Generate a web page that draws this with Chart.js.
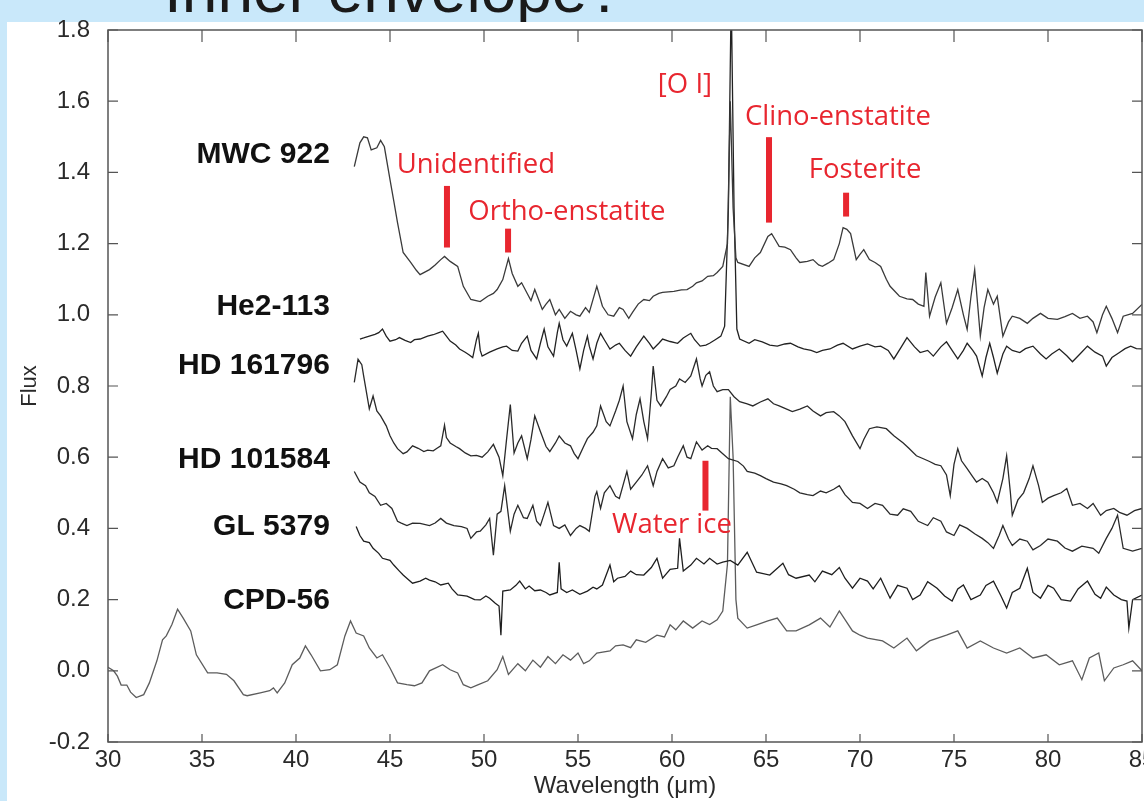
<!DOCTYPE html>
<html><head><meta charset="utf-8">
<script src="https://cdn.jsdelivr.net/npm/chart.js@4/dist/chart.umd.min.js"></script>
<style>
html,body{margin:0;padding:0;width:1144px;height:801px;overflow:hidden;background:#c9e8fa;}
#title{position:absolute;left:164px;top:-42px;font:64px/64px "Liberation Sans",Arial,sans-serif;color:#1a1a1a;white-space:nowrap;}
#panel{position:absolute;left:7px;top:22px;width:1137px;height:779px;background:#fff;}
#c{position:absolute;left:0;top:0;}
</style></head><body>
<div id="title">Inner envelope?</div>
<div id="panel"></div>
<canvas id="c" width="1144" height="801"></canvas>
<script>
// ---------- tick labels ----------
const xTickValues = [30,35,40,45,50,55,60,65,70,75,80,85];
const yTickValues = [-0.2,0,0.2,0.4,0.6,0.8,1.0,1.2,1.4,1.6,1.8];

// ---------- series names ----------
const seriesNames = ['MWC 922','He2-113','HD 161796','HD 101584','GL 5379','CPD-56'];

// ---------- MWC 922 ----------
const mwcWave = [43.1,43.4,43.6,43.8,44.0,44.3,44.5,44.7,45.0,45.2,45.4,45.7,46.1,46.4,46.6,47.1,47.4,47.7,47.9,48.2,48.6,48.9,49.3,49.8,50.2,50.5,50.7,51.0,51.3,51.5,51.8,52.0,52.3,52.5,52.7,53.1,53.3,53.5,53.8,54.0,54.3,54.6,54.9,55.1,55.4,55.6,56.0,56.3,56.6,56.9,57.2,57.4,57.7,57.9,58.2,58.5,58.8,59.0,59.3,59.5,60.1,60.5,60.8,61.1,61.3,61.6,61.9,62.2,62.4,62.7,62.95,63.1,63.25,63.4,63.5,64.1,64.4,64.7,65.1,65.3,65.5,65.7,66.0,66.3,66.6,66.8,67.2,67.5,67.8,68.0,68.3,68.6,68.9,69.1,69.3,69.5,69.8,70.0,70.2,70.5,70.8,71.1,71.4,71.6,72.1,72.5,72.8,73.1,73.4,73.5,73.7,74.0,74.3,74.6,74.9,75.2,75.5,75.7,75.9,76.1,76.4,76.6,76.8,77.1,77.3,77.6,77.9,78.1,78.5,78.9,79.2,79.6,80.0,80.5,80.9,81.3,81.7,82.1,82.4,82.6,82.9,83.1,83.4,83.7,84.0,84.5,85.0];
const mwcFlux = [1.416,1.483,1.5,1.497,1.463,1.469,1.49,1.472,1.38,1.32,1.259,1.175,1.147,1.125,1.113,1.127,1.14,1.155,1.164,1.15,1.136,1.08,1.043,1.037,1.052,1.06,1.071,1.099,1.158,1.116,1.08,1.09,1.06,1.04,1.071,1.015,1.03,1.043,1.0,1.015,0.99,1.01,1.0,0.996,1.02,1.007,1.08,1.024,1.0,0.996,1.02,1.015,0.99,1.007,1.03,1.043,1.04,1.052,1.06,1.063,1.066,1.07,1.071,1.08,1.09,1.095,1.108,1.11,1.119,1.136,1.2,1.6,1.3,1.16,1.147,1.136,1.16,1.175,1.22,1.228,1.21,1.192,1.19,1.183,1.16,1.147,1.15,1.155,1.14,1.136,1.145,1.155,1.2,1.245,1.24,1.228,1.155,1.17,1.183,1.155,1.147,1.136,1.1,1.08,1.052,1.045,1.043,1.03,1.024,1.119,0.996,1.05,1.09,0.976,1.02,1.071,1.0,0.959,1.05,1.127,0.94,1.02,1.071,1.03,1.052,0.94,0.98,0.996,0.99,0.976,0.99,1.004,0.99,0.987,0.995,1.004,0.99,0.996,0.98,0.95,1.0,1.024,0.99,0.95,0.996,1.004,1.029];

// ---------- He2-113 ----------
const heWave = [43.4,43.6,43.9,44.2,44.4,44.6,44.8,45.0,45.3,45.5,45.8,46.1,46.3,46.6,47.0,47.3,47.6,47.8,48.0,48.2,48.5,48.7,49.0,49.2,49.4,49.6,49.7,49.8,49.9,50.3,50.7,51.0,51.2,51.5,51.8,52.0,52.3,52.5,52.8,53.0,53.2,53.4,53.7,53.9,54.0,54.2,54.4,54.7,54.9,55.1,55.3,55.5,55.6,55.8,56.0,56.2,56.4,56.7,57.0,57.2,57.5,57.8,58.1,58.5,58.8,59.0,59.3,59.5,59.9,60.3,60.6,61.0,61.2,61.5,61.8,62.0,62.3,62.6,62.8,63.0,63.15,63.3,63.45,63.6,64.1,64.4,64.8,65.2,65.6,66.0,66.3,66.7,67.0,67.4,67.7,68.0,68.4,68.8,69.1,69.6,70.0,70.4,70.8,71.1,71.5,71.8,72.2,72.5,72.9,73.2,73.6,73.9,74.3,74.6,74.9,75.2,75.5,75.7,76.0,76.2,76.5,76.7,76.9,77.1,77.3,77.6,77.8,78.1,78.5,78.8,79.2,79.6,79.9,80.2,80.6,81.0,81.3,81.7,82.1,82.5,82.9,83.1,83.4,83.8,84.1,84.4,84.7,85.0];
const heFlux = [0.932,0.935,0.94,0.945,0.95,0.96,0.94,0.926,0.93,0.936,0.928,0.922,0.93,0.932,0.94,0.944,0.95,0.954,0.94,0.926,0.915,0.904,0.895,0.888,0.88,0.93,0.948,0.9,0.884,0.895,0.904,0.91,0.912,0.9,0.898,0.92,0.94,0.9,0.876,0.92,0.96,0.91,0.884,0.95,0.976,0.93,0.912,0.948,0.9,0.848,0.9,0.94,0.912,0.876,0.92,0.948,0.93,0.904,0.915,0.92,0.9,0.884,0.91,0.94,0.92,0.904,0.92,0.932,0.925,0.92,0.935,0.948,0.93,0.912,0.915,0.92,0.93,0.94,0.968,1.3,1.9,1.3,0.96,0.932,0.92,0.93,0.924,0.915,0.912,0.918,0.92,0.91,0.904,0.9,0.894,0.9,0.904,0.915,0.92,0.904,0.912,0.918,0.91,0.912,0.9,0.876,0.91,0.936,0.91,0.894,0.9,0.884,0.91,0.924,0.9,0.876,0.9,0.92,0.9,0.884,0.828,0.88,0.92,0.88,0.836,0.89,0.912,0.9,0.894,0.905,0.912,0.89,0.876,0.89,0.904,0.885,0.868,0.89,0.912,0.895,0.884,0.856,0.88,0.894,0.905,0.912,0.905,0.904];

// ---------- HD 161796 ----------
const hd161Wave = [43.1,43.3,43.5,43.6,43.9,44.1,44.3,44.5,44.8,45.0,45.2,45.4,45.7,45.9,46.2,46.5,46.8,47.0,47.3,47.5,47.7,47.9,48.0,48.2,48.5,48.7,49.0,49.3,49.6,49.9,50.2,50.5,50.8,51.0,51.2,51.4,51.6,51.8,52.0,52.3,52.5,52.7,53.0,53.3,53.5,53.8,54.0,54.3,54.6,54.8,55.0,55.3,55.5,55.8,56.0,56.2,56.5,56.7,57.0,57.2,57.4,57.6,57.9,58.1,58.3,58.5,58.7,58.9,59.0,59.2,59.4,59.7,59.9,60.2,60.4,60.7,61.0,61.3,61.5,61.6,61.8,62.0,62.2,62.4,62.7,63.0,63.3,63.6,64.0,64.3,64.7,65.1,65.4,65.7,66.1,66.4,66.8,67.2,67.5,67.9,68.2,68.6,68.9,69.2,69.6,70.0,70.2,70.5,70.9,71.4,71.8,72.3,72.6,73.0,73.4,73.7,74.0,74.3,74.6,74.8,75.0,75.2,75.4,75.7,76.0,76.2,76.5,76.8,77.1,77.3,77.6,77.8,78.0,78.1,78.4,78.7,79.0,79.2,79.5,79.7,80.0,80.3,80.7,81.0,81.3,81.7,82.1,82.4,82.8,83.1,83.5,83.8,84.2,84.6,85.0];
const hd161Flux = [0.81,0.875,0.86,0.828,0.736,0.772,0.73,0.716,0.688,0.66,0.64,0.624,0.61,0.615,0.632,0.625,0.616,0.62,0.618,0.625,0.632,0.69,0.655,0.64,0.63,0.624,0.612,0.604,0.605,0.6,0.615,0.636,0.6,0.548,0.65,0.748,0.612,0.64,0.66,0.596,0.65,0.716,0.672,0.63,0.616,0.64,0.66,0.64,0.632,0.61,0.596,0.63,0.652,0.67,0.688,0.744,0.7,0.688,0.73,0.76,0.8,0.7,0.652,0.72,0.764,0.7,0.652,0.78,0.856,0.76,0.744,0.77,0.79,0.8,0.82,0.81,0.828,0.876,0.82,0.8,0.83,0.84,0.8,0.784,0.79,0.79,0.77,0.756,0.75,0.744,0.755,0.764,0.75,0.744,0.735,0.728,0.735,0.744,0.73,0.716,0.725,0.728,0.716,0.7,0.66,0.624,0.65,0.68,0.685,0.68,0.66,0.64,0.625,0.604,0.595,0.588,0.58,0.576,0.55,0.492,0.58,0.624,0.59,0.568,0.545,0.53,0.54,0.53,0.5,0.473,0.54,0.604,0.5,0.437,0.48,0.5,0.54,0.576,0.52,0.473,0.485,0.492,0.5,0.512,0.465,0.47,0.456,0.47,0.437,0.45,0.456,0.445,0.437,0.45,0.456];

// ---------- HD 101584 ----------
const hd101Wave = [43.1,43.4,43.7,43.9,44.2,44.5,44.8,45.1,45.4,45.6,45.9,46.2,46.6,47.1,47.4,47.7,48.0,48.4,48.8,49.1,49.3,49.6,49.8,50.1,50.3,50.5,50.7,50.9,51.1,51.4,51.6,51.8,52.1,52.3,52.6,52.8,53.0,53.2,53.4,53.7,54.0,54.3,54.6,54.9,55.1,55.4,55.6,55.9,56.0,56.2,56.4,56.7,57.0,57.2,57.6,57.8,58.1,58.4,58.7,59.0,59.2,59.5,59.8,60.1,60.3,60.6,60.8,61.0,61.3,61.6,61.9,62.1,62.4,62.7,63.0,63.5,63.8,64.0,64.4,64.7,65.0,65.4,65.8,66.1,66.5,66.8,67.2,67.5,67.9,68.2,68.6,68.9,69.2,69.6,70.0,70.4,70.8,71.2,71.6,72.0,72.3,72.7,73.1,73.6,73.9,74.3,74.6,75.0,75.3,75.7,76.1,76.5,76.8,77.1,77.4,77.6,77.9,78.1,78.5,78.9,79.2,79.6,80.0,80.5,80.9,81.3,81.8,82.4,82.7,83.1,83.4,83.7,84.0,84.5,85.0];
const hd101Flux = [0.56,0.53,0.52,0.5,0.49,0.465,0.47,0.456,0.42,0.415,0.408,0.415,0.414,0.408,0.415,0.428,0.415,0.408,0.405,0.4,0.372,0.39,0.392,0.41,0.428,0.325,0.44,0.448,0.52,0.392,0.44,0.465,0.43,0.428,0.465,0.42,0.408,0.44,0.473,0.408,0.4,0.41,0.38,0.4,0.408,0.4,0.392,0.49,0.503,0.456,0.5,0.52,0.49,0.484,0.56,0.51,0.53,0.55,0.576,0.52,0.56,0.596,0.57,0.576,0.6,0.632,0.6,0.596,0.643,0.62,0.632,0.625,0.624,0.61,0.596,0.588,0.575,0.56,0.555,0.548,0.54,0.53,0.525,0.52,0.51,0.5,0.495,0.492,0.505,0.5,0.51,0.52,0.495,0.473,0.47,0.456,0.47,0.465,0.44,0.437,0.455,0.448,0.42,0.408,0.43,0.42,0.39,0.38,0.41,0.4,0.385,0.372,0.36,0.344,0.38,0.408,0.37,0.352,0.37,0.364,0.34,0.352,0.37,0.364,0.345,0.336,0.35,0.344,0.33,0.372,0.4,0.437,0.344,0.336,0.344];

// ---------- GL 5379 ----------
const glWave = [43.2,43.4,43.6,43.9,44.1,44.4,44.6,45.0,45.2,45.5,45.7,46.0,46.2,46.6,46.9,47.1,47.4,47.7,48.1,48.3,48.6,49.1,49.5,49.8,50.1,50.3,50.6,50.8,50.9,51.0,51.4,51.7,51.9,52.2,52.4,52.7,53.0,53.3,53.5,53.9,54.0,54.1,54.4,54.7,55.1,55.5,55.8,56.0,56.3,56.7,56.9,57.1,57.5,57.8,58.1,58.5,58.9,59.2,59.5,59.9,60.3,60.4,60.6,61.0,61.3,61.7,62.0,62.4,62.7,63.1,63.5,64.0,64.5,65.2,65.9,66.2,66.6,67.3,67.6,68.0,68.5,68.9,69.2,69.6,70.0,70.4,70.7,71.1,71.6,72.0,72.5,72.8,73.2,73.6,74.1,74.5,74.9,75.2,75.5,75.9,76.4,76.7,77.1,77.5,77.8,78.1,78.5,78.9,79.2,79.6,80.0,80.3,80.7,81.2,81.6,82.1,82.5,82.8,83.1,83.5,83.9,84.2,84.3,84.5,85.0];
const glFlux = [0.405,0.38,0.364,0.36,0.344,0.33,0.316,0.31,0.297,0.28,0.269,0.255,0.246,0.252,0.26,0.255,0.25,0.241,0.246,0.23,0.213,0.21,0.2,0.199,0.21,0.204,0.19,0.182,0.1,0.224,0.227,0.24,0.252,0.23,0.238,0.225,0.227,0.22,0.213,0.22,0.305,0.23,0.22,0.227,0.215,0.224,0.235,0.23,0.241,0.297,0.25,0.26,0.265,0.28,0.27,0.269,0.29,0.316,0.26,0.285,0.288,0.372,0.28,0.297,0.316,0.3,0.316,0.3,0.305,0.31,0.297,0.333,0.277,0.269,0.302,0.27,0.26,0.269,0.25,0.28,0.27,0.29,0.26,0.232,0.26,0.252,0.23,0.26,0.204,0.24,0.232,0.2,0.213,0.25,0.232,0.21,0.196,0.23,0.241,0.2,0.213,0.24,0.252,0.21,0.176,0.22,0.232,0.288,0.22,0.204,0.24,0.232,0.2,0.196,0.23,0.252,0.215,0.204,0.235,0.213,0.2,0.196,0.12,0.2,0.213];

// ---------- CPD-56 ----------
const cpdWave = [30.0,30.3,30.5,30.7,31.0,31.2,31.5,31.9,32.2,32.6,32.9,33.1,33.4,33.7,34.0,34.4,34.7,35.3,35.8,36.3,36.7,37.2,37.4,38.1,38.6,38.8,39.0,39.4,39.8,40.2,40.5,40.8,41.3,41.8,42.2,42.6,42.9,43.2,43.6,43.9,44.3,44.6,45.0,45.4,45.9,46.3,46.7,47.1,47.8,48.2,48.6,48.9,49.3,49.7,50.2,50.7,51.0,51.3,51.8,52.2,52.6,53.0,53.4,53.8,54.2,54.6,55.0,55.3,55.6,56.0,56.7,57.0,57.4,57.8,58.1,58.6,59.2,59.6,59.9,60.2,60.6,61.1,61.6,62.0,62.4,62.7,62.95,63.1,63.25,63.4,63.5,64.0,64.5,65.1,65.6,66.1,66.6,67.3,67.9,68.4,68.9,69.6,70.0,70.4,71.2,71.8,72.5,73.0,73.7,74.6,75.2,75.7,76.4,77.1,77.8,78.5,79.2,79.9,80.6,81.3,81.8,82.2,82.7,83.0,83.5,84.0,84.5,85.0];
const cpdFlux = [0.01,0.0,-0.015,-0.04,-0.04,-0.06,-0.075,-0.067,-0.034,0.028,0.087,0.098,0.13,0.173,0.148,0.112,0.045,-0.006,-0.006,-0.01,-0.028,-0.067,-0.07,-0.062,-0.056,-0.048,-0.062,-0.034,0.017,0.036,0.07,0.045,0.0,0.003,0.017,0.098,0.14,0.106,0.098,0.064,0.036,0.045,0.008,-0.034,-0.039,-0.042,-0.034,0.0,0.017,0.003,-0.006,-0.039,-0.048,-0.039,-0.028,0.003,0.04,-0.01,0.02,0.0,0.03,0.01,0.04,0.02,0.045,0.03,0.05,0.02,0.028,0.05,0.056,0.07,0.073,0.065,0.087,0.08,0.1,0.095,0.129,0.115,0.14,0.12,0.14,0.13,0.143,0.168,0.3,0.77,0.6,0.2,0.148,0.12,0.129,0.14,0.148,0.112,0.112,0.129,0.148,0.123,0.168,0.112,0.1,0.092,0.084,0.064,0.092,0.056,0.084,0.1,0.112,0.064,0.084,0.064,0.05,0.064,0.036,0.045,0.017,0.028,-0.025,0.036,0.05,-0.028,0.008,0.017,0.028,0.0];

// ---------- annotations (text, text centre, marker bar) ----------
const annText  = ['Unidentified','Ortho-enstatite','[O I]','Clino-enstatite','Fosterite','Water ice'];
const annTextX = [49.57, 54.41, 60.69, 68.83, 70.27, 60.0];
const annTextY = [1.421, 1.287, 1.645, 1.555, 1.407, 0.408];
const barX     = [48.03, 51.28, null, 65.16, 69.26, 61.78];
const barTop   = [1.362, 1.242, null, 1.499, 1.343, 0.59];
const barBot   = [1.189, 1.175, null, 1.259, 1.276, 0.45];

// series label anchors (right-aligned)
const labelWave = 41.8;
const labelFlux = [1.449, 1.024, 0.856, 0.593, 0.406, 0.196];

const waves = [mwcWave, heWave, hd161Wave, hd101Wave, glWave, cpdWave];
const fluxes = [mwcFlux, heFlux, hd161Flux, hd101Flux, glFlux, cpdFlux];
const colors = ['#3a3a3a','#222','#2a2a2a','#2a2a2a','#1e1e1e','#5c5c5c'];

const datasets = seriesNames.map((n,i)=>({
  label:n,
  data: waves[i].map((w,j)=>({x:w, y:fluxes[i][j]})),
  borderColor: colors[i],
  borderWidth: 1.3,
  pointRadius: 0,
  fill: false,
  tension: 0
}));

const decor = {
  id:'decor',
  afterDatasetsDraw(chart){
    const {ctx, chartArea:a, scales:{x, y}} = chart;
    ctx.save();
    ctx.strokeStyle = '#555'; ctx.lineWidth = 1.5;
    ctx.strokeRect(a.left, a.top, a.right-a.left, a.bottom-a.top);
    ctx.lineWidth = 1.2; ctx.beginPath();
    xTickValues.forEach(v=>{const px=x.getPixelForValue(v);
      ctx.moveTo(px,a.bottom); ctx.lineTo(px,a.bottom-8);
      ctx.moveTo(px,a.top); ctx.lineTo(px,a.top+12);});
    yTickValues.forEach(v=>{const py=y.getPixelForValue(v);
      ctx.moveTo(a.left,py); ctx.lineTo(a.left+10,py);
      ctx.moveTo(a.right,py); ctx.lineTo(a.right-10,py);});
    ctx.stroke();
    // series labels
    ctx.fillStyle = '#111';
    ctx.font = 'bold 30px "Liberation Sans", Arial, sans-serif';
    ctx.textAlign = 'right'; ctx.textBaseline = 'middle';
    seriesNames.forEach((n,i)=>ctx.fillText(n, x.getPixelForValue(labelWave), y.getPixelForValue(labelFlux[i])));
    // annotations
    ctx.fillStyle = '#e8262f';
    annText.forEach((t,i)=>{
      if (barX[i] !== null) {
        const bx = x.getPixelForValue(barX[i]);
        const t0 = y.getPixelForValue(barTop[i]), b0 = y.getPixelForValue(barBot[i]);
        ctx.fillRect(bx-3, t0, 6, b0-t0);
      }
    });
    ctx.font = '27.5px "Open Sans", "Noto Sans", sans-serif';
    ctx.textAlign = 'center';
    annText.forEach((t,i)=>ctx.fillText(t, x.getPixelForValue(annTextX[i]), y.getPixelForValue(annTextY[i])));
    ctx.restore();
  }
};

new Chart(document.getElementById('c'), {
  type:'line',
  data:{datasets},
  options:{
    responsive:false, animation:false, devicePixelRatio:1,
    layout:{padding:{top:30,right:2,bottom:0,left:0}, autoPadding:false},
    plugins:{legend:{display:false}, tooltip:{enabled:false}},
    scales:{
      x:{type:'linear', min:30, max:85,
        afterFit(s){s.height=59; s.paddingLeft=0; s.paddingRight=0;},
        afterBuildTicks(s){s.ticks = xTickValues.map(v=>({value:v}));},
        grid:{display:false, drawTicks:false}, border:{display:false},
        ticks:{autoSkip:false, maxRotation:0, padding:4, color:'#2a2a2a',
          font:{family:'"Liberation Sans", Arial, sans-serif', size:24}},
        title:{display:true, text:'Wavelength (μm)', color:'#2a2a2a', padding:{top:0,bottom:0},
          font:{family:'"Liberation Sans", Arial, sans-serif', size:24}}
      },
      y:{type:'linear', min:-0.2, max:1.8,
        afterFit(s){s.width=108; s.paddingTop=0; s.paddingBottom=0;},
        afterBuildTicks(s){s.ticks = yTickValues.map(v=>({value:v}));},
        grid:{display:false, drawTicks:false}, border:{display:false},
        ticks:{autoSkip:false, padding:18, color:'#2a2a2a',
          callback:v=>Number(v).toFixed(1),
          font:{family:'"Liberation Sans", Arial, sans-serif', size:24}},
        title:{display:true, text:'Flux', color:'#2a2a2a', padding:{top:17,bottom:0},
          font:{family:'"Liberation Sans", Arial, sans-serif', size:22}}
      }
    }
  },
  plugins:[decor]
});
</script></body></html>
